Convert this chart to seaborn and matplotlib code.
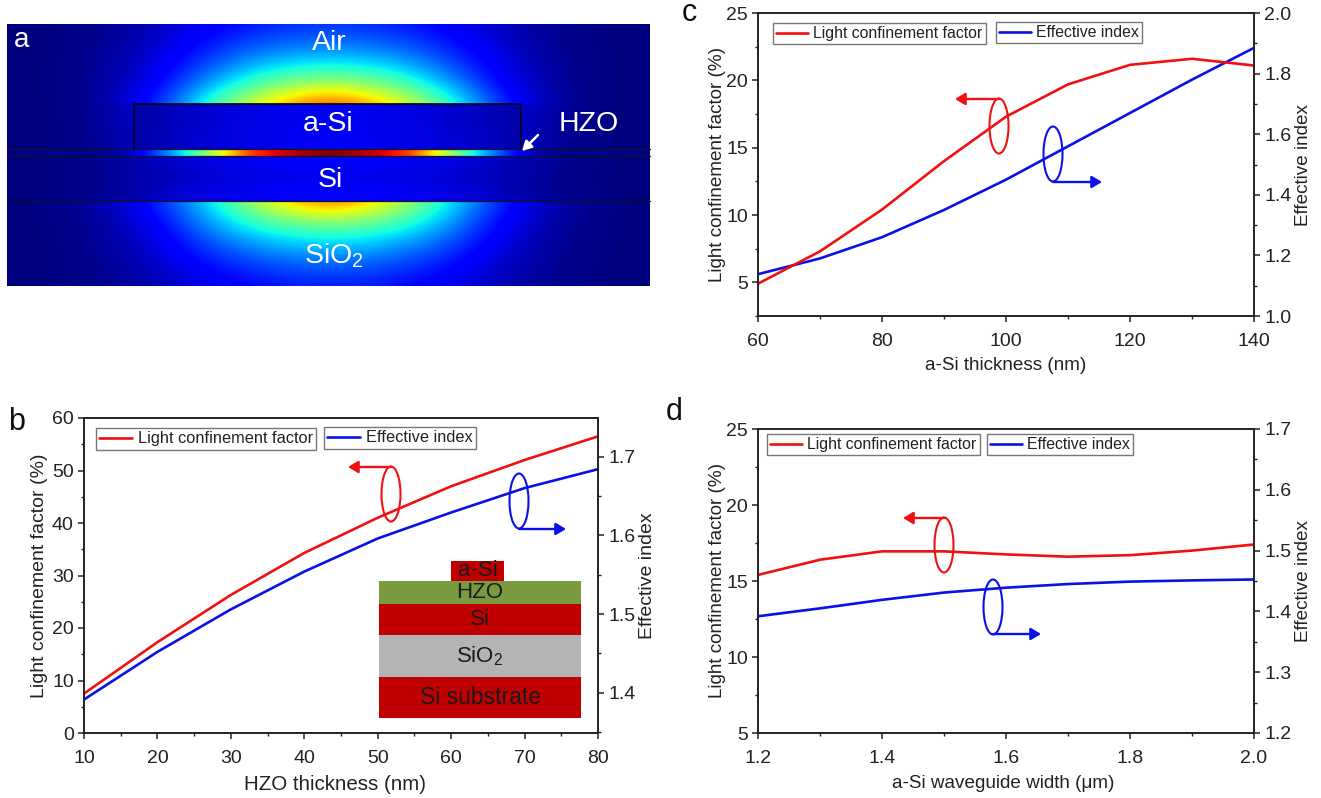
import numpy as np
import matplotlib
matplotlib.use("Agg")
import matplotlib.pyplot as plt
from matplotlib.patches import Ellipse, Rectangle
from matplotlib.ticker import MultipleLocator, FormatStrFormatter
import seaborn as sns

W, H = 1321, 798
sns.set_style("ticks")
plt.rcParams['font.family'] = ['Liberation Sans', 'DejaVu Sans']
plt.rcParams['mathtext.default'] = 'regular'
plt.rcParams['mathtext.fontset'] = 'custom'
plt.rcParams['mathtext.rm'] = 'Liberation Sans'

RED, BLUE = '#f01010', '#0a10e8'
INK = '#222222'

# ---- panel b
b_thick = [10, 20, 30, 40, 50, 60, 70, 80]
b_conf = [7.5, 17.3, 26.3, 34.3, 41.0, 47.0, 52.0, 56.5]
b_neff = [1.3915, 1.452, 1.506, 1.554, 1.596, 1.629, 1.660, 1.684]
# ---- panel c
c_thick = [60, 70, 80, 90, 100, 110, 120, 130, 140]
c_conf = [4.9, 7.3, 10.4, 14.0, 17.3, 19.7, 21.15, 21.6, 21.1]
c_neff = [1.138, 1.19, 1.26, 1.35, 1.45, 1.56, 1.67, 1.78, 1.885]
# ---- panel d
d_width = [1.2, 1.3, 1.4, 1.5, 1.6, 1.7, 1.8, 1.9, 2.0]
d_conf = [15.4, 16.4, 16.95, 16.95, 16.75, 16.6, 16.7, 17.0, 17.4]
d_neff = [1.392, 1.405, 1.419, 1.431, 1.439, 1.445, 1.449, 1.451, 1.4525]

# ---- panel a: field strength (centre outwards, one half)
air_field = [
    [.17, .165, .14, .105, .065, .03, .01, .003, 0],
    [.24, .23, .20, .145, .09, .04, .012, .003, 0],
    [.36, .34, .29, .20, .115, .05, .015, .004, 0],
    [.55, .52, .42, .29, .15, .06, .015, .004, 0],
    [.85, .75, .62, .42, .22, .08, .015, .004, 0],
]
side_field = [
    [.12, .115, .11, .10, .085, .07, .015, .004, 0],
    [.10, .10, .09, .08, .07, .05, .012, .003, 0],
]
sio2_field = [
    [.82, .72, .55, .36, .20, .09, .025, .006, 0],
    [.50, .47, .40, .28, .15, .06, .018, .005, 0],
    [.33, .32, .27, .20, .11, .05, .015, .004, 0],
    [.22, .21, .18, .135, .08, .035, .012, .003, 0],
    [.15, .145, .12, .095, .055, .025, .008, .002, 0],
]
asi_field = [
    [.10, .095, .085, .07, .05, .03, .02, .01, 0],
    [.11, .105, .095, .08, .06, .035, .02, .01, 0],
]
si_field = [
    [.125, .12, .11, .095, .07, .04, .015, .004, 0],
    [.085, .085, .08, .07, .05, .028, .01, .003, 0],
    [.135, .13, .115, .10, .075, .04, .015, .004, 0],
]
hzo_field = [1, .98, .94, .90, .85, .68, .55, .40, .27, .16, .06, .02, .01, .01, .01, .01, 0]

fig = plt.figure(figsize=(W / 100, H / 100), dpi=100, facecolor='white')


def px_axes(x0, x1, ytop, ybot, **kw):
    return fig.add_axes([x0 / W, 1 - ybot / H, (x1 - x0) / W, (ybot - ytop) / H], **kw)


def style(ax, xlim, xmaj, xmin, ylim, ymaj, ymin, yfmt, xfmt):
    ax.set_xlim(*xlim)
    ax.set_ylim(*ylim)
    ax.xaxis.set_major_locator(MultipleLocator(xmaj))
    ax.xaxis.set_minor_locator(MultipleLocator(xmin))
    ax.yaxis.set_major_locator(MultipleLocator(ymaj))
    ax.yaxis.set_minor_locator(MultipleLocator(ymin))
    ax.xaxis.set_major_formatter(FormatStrFormatter(xfmt))
    ax.yaxis.set_major_formatter(FormatStrFormatter(yfmt))
    ax.tick_params(which='major', length=4.3, width=1.1, color=INK, labelsize=14, labelcolor=INK, pad=3)
    ax.tick_params(axis='x', which='major', pad=8)
    ax.tick_params(which='minor', length=2.4, width=1.0, color=INK)
    for s in ax.spines.values():
        s.set_visible(True)
        s.set_linewidth(1.2)
        s.set_color(INK)


def add_legend(ax, line, label, left, top, fs):
    leg = ax.legend(handles=[line], labels=[label], loc='upper left',
                    bbox_to_anchor=(left / W, 1 - top / H), bbox_transform=fig.transFigure,
                    borderaxespad=0, borderpad=0.2, handlelength=2.0, handletextpad=0.35,
                    frameon=True, fancybox=False, framealpha=1, edgecolor='#777777',
                    fontsize=fs, labelcolor=INK)
    leg.get_frame().set_linewidth(1.0)
    leg.set_zorder(20)
    return leg


def panel(box, x, conf, neff, xlim, xmaj, xmin, ylim, ymaj, ymin, rlim, rmaj, rmin, xfmt,
          xlabel, legs, xlabel_xy, left_x, right_x, xfs, yfs, lfs):
    ax = px_axes(*box)
    ax2 = ax.twinx()
    ax.set_zorder(ax2.get_zorder() + 1)
    ax.patch.set_visible(False)
    sns.lineplot(x=x, y=conf, ax=ax, color=RED, linewidth=1.9, legend=False)
    sns.lineplot(x=x, y=neff, ax=ax2, color=BLUE, linewidth=1.9, legend=False)
    style(ax, xlim, xmaj, xmin, ylim, ymaj, ymin, '%d', xfmt)
    style(ax2, xlim, xmaj, xmin, rlim, rmaj, rmin, '%.1f', xfmt)
    ax.set_xlabel(xlabel, fontsize=xfs, color=INK)
    ax.xaxis.set_label_coords(xlabel_xy[0] / W, 1 - xlabel_xy[1] / H, transform=fig.transFigure)
    ax.xaxis.label.set_verticalalignment('center')
    ymid = 1 - (box[2] + box[3]) / 2 / H
    ax.set_ylabel('Light confinement factor (%)', fontsize=yfs, color=INK, va='center')
    ax.yaxis.set_label_coords(left_x / W, ymid, transform=fig.transFigure)
    ax2.set_ylabel('Effective index', fontsize=yfs, color=INK, va='center')
    ax2.yaxis.set_label_coords(right_x / W, ymid, transform=fig.transFigure)
    ax2.set_xlabel('')
    first = add_legend(ax, ax.lines[0], 'Light confinement factor', *legs[0], lfs)
    ax.add_artist(first)
    add_legend(ax, ax2.lines[0], 'Effective index', *legs[1], lfs)
    return ax


panel((84, 598, 418, 733), b_thick, b_conf, b_neff, (10, 80), 10, 5, (0, 60), 10, 5,
      (1.349, 1.749), 0.1, 0.05, '%d', 'HZO thickness (nm)',
      [(96, 428), (324, 427)], (335, 784), 40, 647, 14.8, 14, 11.8)
panel((758, 1254, 13, 316), c_thick, c_conf, c_neff, (60, 140), 20, 10, (2.5, 25), 5, 2.5,
      (1.0, 2.0), 0.2, 0.1, '%d', 'a-Si thickness (nm)',
      [(773, 23), (996, 22)], (1006, 365), 717, 1303, 13.6, 13.6, 11.4)
panel((758, 1254, 429, 733), d_width, d_conf, d_neff, (1.2, 2.0), 0.2, 0.1, (5, 25), 5, 2.5,
      (1.2, 1.7), 0.1, 0.05, '%.1f', 'a-Si waveguide width (\u03bcm)',
      [(767, 434), (987, 434)], (1003, 783), 717, 1303, 13.6, 13.6, 11.4)

# ---- overlay in pixel coordinates: panel a, callouts, inset, letters
ov = fig.add_axes([0, 0, 1, 1], facecolor='none', zorder=30)
ov.axis('off')

CX, STEP = 330, 40
LEFT, RIGHT, TOP, BOT = 7, 650, 24, 286
SI_L, SI_R, Y1, Y2, Y3, Y4 = 134, 521, 104, 149, 156, 201


def mirror(rows):
    rows = np.atleast_2d(np.array(rows, dtype=float))
    return np.hstack([rows[:, :0:-1], rows])


def field(rows, ytop, ybot, step=STEP, clip=None, z=1):
    m = mirror(rows)
    half = (m.shape[1] - 1) / 2 * step
    dy = (ybot - ytop) / max(m.shape[0] - 1, 1)
    im = ov.imshow(m, cmap='jet', vmin=0, vmax=1, interpolation='bicubic', aspect='auto',
                   extent=(CX - half - step / 2, CX + half + step / 2, ybot + dy / 2, ytop - dy / 2),
                   zorder=z)
    box = clip or (LEFT, ytop, RIGHT - LEFT, ybot - ytop)
    im.set_clip_path(Rectangle(box[:2], box[2], box[3], transform=ov.transData))


field(air_field, TOP, Y1)
field(side_field, Y1, Y2)
field(asi_field, Y1, Y2, clip=(SI_L, Y1, SI_R - SI_L, Y2 - Y1), z=2)
field([hzo_field, hzo_field], Y2, Y3, step=20)
field(si_field, Y3, Y4)
field(sio2_field, Y4, BOT)
ov.set_xlim(0, W)
ov.set_ylim(H, 0)

for y in (Y2, Y3, Y4):
    ov.plot([LEFT, RIGHT], [y, y], color='#101030', lw=0.9, zorder=3)
ov.plot([SI_L, SI_L, SI_R, SI_R], [Y2, Y1, Y1, Y2], color='#050520', lw=1.3, zorder=3)

for s, x, y in [('Air', 329, 43), ('a-Si', 328, 124), ('Si', 330, 180), ('SiO$_2$', 334, 256),
                ('HZO', 589, 124)]:
    ov.text(x, y, s, color='white', fontsize=20.5, ha='center', va='center', zorder=5)
ov.text(22, 40, 'a', color='white', fontsize=20, ha='center', va='center', zorder=5)
ov.annotate('', xy=(522, 151), xytext=(538, 135), zorder=5,
            arrowprops=dict(arrowstyle='-|>,head_width=0.3,head_length=0.55', color='white', lw=1.8,
                            shrinkA=0, shrinkB=0))

for s, x, y in [('b', 17, 422), ('c', 689, 13), ('d', 674, 412)]:
    ov.text(x, y, s, color='#111111', fontsize=22, ha='center', va='center')

# callouts: (ellipse centre x, centre y, arrow-start y, arrow-tip x, colour)
callouts = [
    (391, 494, 467, 348, RED), (519, 501, 529, 566, BLUE),
    (999, 126, 99, 955, RED), (1053, 154, 182, 1102, BLUE),
    (944, 545, 518, 903, RED), (993, 607, 634, 1041, BLUE),
]
for cx, cy, ay, tip, col in callouts:
    ov.add_patch(Ellipse((cx, cy), 19, 55, fill=False, edgecolor=col, lw=1.5, zorder=6))
    ov.annotate('', xy=(tip, ay), xytext=(cx, ay), zorder=6,
                arrowprops=dict(arrowstyle='-|>,head_width=0.36,head_length=0.6', color=col, lw=1.7,
                                shrinkA=0, shrinkB=0))

# inset layer stack of panel b
stack = [
    ('a-Si', 451, 504, 561, 581, '#c00000', 16),
    ('HZO', 379, 581, 581, 604, '#7a9a40', 16),
    ('Si', 379, 581, 604, 635, '#c00000', 16),
    ('SiO$_2$', 379, 581, 635, 677, '#b4b4b4', 16),
    ('Si substrate', 379, 581, 677, 718, '#c00000', 16.5),
]
for s, x0, x1, y0, y1, c, fs in stack:
    ov.add_patch(Rectangle((x0, y0), x1 - x0, y1 - y0, facecolor=c, edgecolor='none', zorder=7))
    ov.text((x0 + x1) / 2, (y0 + y1) / 2, s, color='#1a1a1a', fontsize=fs, ha='center', va='center', zorder=8)

fig.savefig('out.png', dpi=100)
